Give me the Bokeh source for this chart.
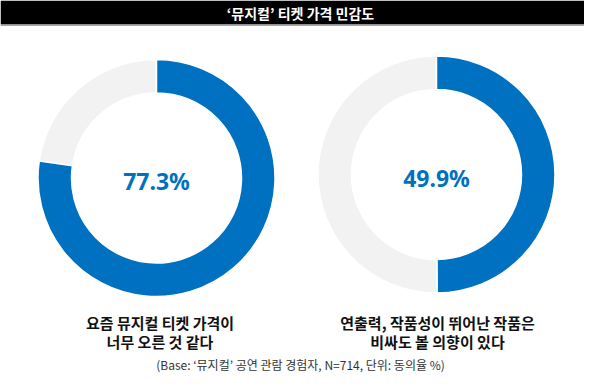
import math
from bokeh.plotting import figure
from bokeh.models import Range1d, ColumnDataSource
from bokeh.core.properties import value
from bokeh.embed import file_html
from bokeh.resources import INLINE

# ---- data ----
chart_title = "‘뮤지컬’ 티켓 가격 민감도"
items_line1 = ["요즘 뮤지컬 티켓 가격이", "연출력, 작품성이 뛰어난 작품은"]
items_line2 = ["너무 오른 것 같다", "비싸도 볼 의향이 있다"]
agree = [77.3, 49.9]
value_labels = ["77.3%", "49.9%"]
footnote = "(Base: ‘뮤지컬’ 공연 관람 경험자, N=714, 단위: 동의율 %)"

# ---- layout (pixel space of the figure, y up) ----
W, H = 584, 376
cx = [156, 436]
cy = [198.5, 202]
R_OUT, R_IN = 118.5, 85
BLUE = "#0070C0"
GRAY = "#F2F2F2"
KR = "Noto Sans CJK KR"

p = figure(width=W, height=H, x_range=Range1d(0, W), y_range=Range1d(0, H),
           output_backend="svg", toolbar_location=None, min_border=0,
           background_fill_color="white", border_fill_color="white")
p.xaxis.visible = False
p.yaxis.visible = False
p.grid.visible = False
p.outline_line_color = None

# title bar
p.quad(left=[0], right=[W], bottom=[H - 24], top=[H], fill_color="black", line_color=None)
p.quad(left=[0], right=[W], bottom=[H - 25.5], top=[H - 24], fill_color="#a6a6a6", line_color=None)
p.text(x=[300], y=[H - 12], text=[chart_title], text_color="white",
       text_font=value(KR), text_font_size="14px", text_font_style="bold",
       text_align="center", text_baseline="middle")

# donuts
top = math.pi / 2
start_blue, end_blue, start_gray, end_gray = [], [], [], []
for v in agree:
    a = 2 * math.pi * v / 100.0
    start_blue.append(top)
    end_blue.append(top - a)
    start_gray.append(top - a)
    end_gray.append(top - 2 * math.pi)

src = ColumnDataSource(dict(x=cx, y=cy, sb=start_blue, eb=end_blue, sg=start_gray, eg=end_gray))
p.annular_wedge(x="x", y="y", inner_radius=R_IN, outer_radius=R_OUT,
                start_angle="sg", end_angle="eg", direction="clock",
                fill_color=GRAY, line_color="white", line_width=1.5, source=src)
p.annular_wedge(x="x", y="y", inner_radius=R_IN, outer_radius=R_OUT,
                start_angle="sb", end_angle="eb", direction="clock",
                fill_color=BLUE, line_color="white", line_width=1.5, source=src)

# center values
p.text(x=cx, y=[c - 3 for c in cy], text=value_labels, text_color=BLUE,
       text_font=value("Noto Sans"), text_font_size="23px", text_font_style="bold",
       text_align="center", text_baseline="middle")

# item captions
p.text(x=[159.5, 437], y=[54, 54], text=items_line1, text_color="#111111",
       text_font=value(KR), text_font_size="15px", text_font_style="bold",
       text_align="center", text_baseline="middle")
p.text(x=[159.5, 437], y=[35, 35], text=items_line2, text_color="#111111",
       text_font=value(KR), text_font_size="15px", text_font_style="bold",
       text_align="center", text_baseline="middle")

# footnote
p.text(x=[300], y=[4], text=[footnote], text_color="#333333",
       text_font=value(KR), text_font_size="12px",
       text_align="center", text_baseline="bottom")

open("out.html", "w").write(file_html(p, INLINE))
